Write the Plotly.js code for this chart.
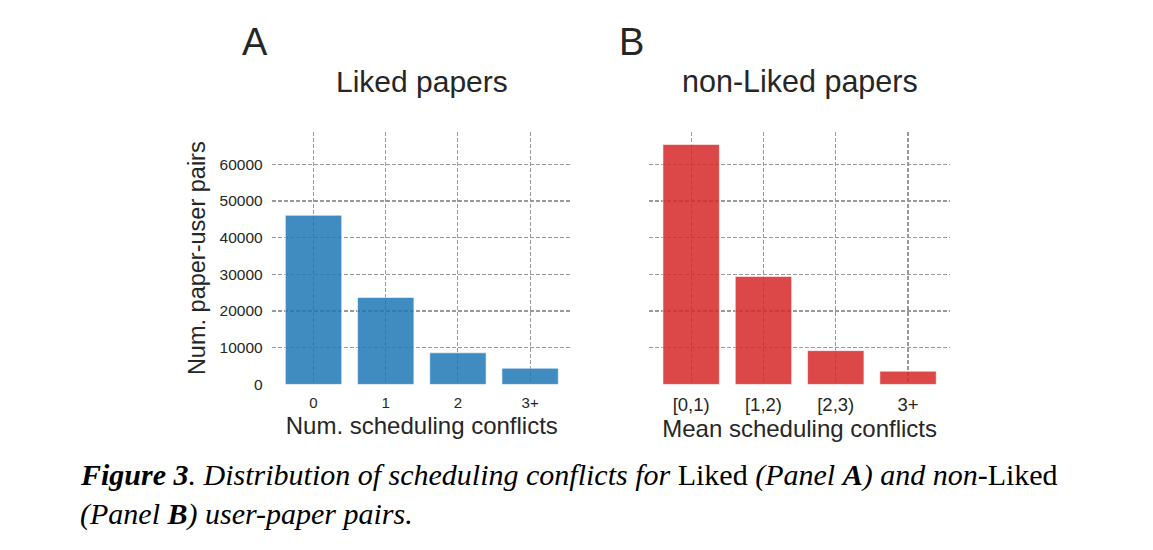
<!DOCTYPE html>
<html>
<head>
<meta charset="utf-8">
<script src="https://cdn.plot.ly/plotly-3.0.1.min.js"></script>
<style>html,body{margin:0;padding:0;background:#fff;}#chart{width:1153px;height:550px;}</style>
</head>
<body>
<div id="chart"></div>
<script>
// ---- data ----
var likedCategories = ['0', '1', '2', '3+'];
var likedCounts = [46100, 23700, 8600, 4400];
var nonLikedCategories = ['[0,1)', '[1,2)', '[2,3)', '3+'];
var nonLikedCounts = [65400, 29400, 9200, 3600];
var yTickValues = [0, 10000, 20000, 30000, 40000, 50000, 60000];

var SANS = '"Liberation Sans", Arial, sans-serif';
var SERIF = '"Liberation Serif", "Times New Roman", serif';
var TXT = '#262626';
var GRID = '#999999';

var traces = [
  {
    type: 'bar', x: likedCategories, y: likedCounts, xaxis: 'x', yaxis: 'y',
    width: 0.78,
    marker: {color: 'rgba(31,119,180,0.85)', line: {color: 'rgba(255,255,255,0.55)', width: 1}},
    hoverinfo: 'x+y', showlegend: false
  },
  {
    type: 'bar', x: nonLikedCategories, y: nonLikedCounts, xaxis: 'x2', yaxis: 'y2',
    width: 0.78,
    marker: {color: 'rgba(214,39,40,0.85)', line: {color: 'rgba(255,255,255,0.55)', width: 1}},
    hoverinfo: 'x+y', showlegend: false
  }
];

function xAxis(domain, cats, tickSize, titleText, standoff, labelStandoff) {
  return {
    domain: domain, type: 'category', categoryorder: 'array', categoryarray: cats,
    range: [-0.58, 3.58], showgrid: true, gridcolor: GRID, griddash: '4px,2px', gridwidth: 1.1,
    zeroline: false, showline: false, ticks: '', ticklabelstandoff: labelStandoff,
    tickfont: {family: SANS, size: tickSize, color: TXT},
    title: {text: titleText, font: {family: SANS, size: 24, color: TXT}, standoff: standoff},
    automargin: false, fixedrange: true
  };
}
function yAxis(anchor, showLabels) {
  return {
    domain: [0.3011, 0.76], anchor: anchor, range: [0, 68800],
    tickmode: 'array', tickvals: yTickValues, ticktext: yTickValues.map(function (v) { return String(v); }),
    showticklabels: showLabels, showgrid: true, gridcolor: GRID, griddash: '4px,2px', gridwidth: 1.1,
    zeroline: true, zerolinecolor: 'rgba(255,255,255,0)', zerolinewidth: 1,
    showline: false, ticks: '', ticklabelstandoff: 8,
    tickfont: {family: SANS, size: 15.5, color: TXT},
    title: showLabels ? {text: 'Num. paper-user pairs', font: {family: SANS, size: 23.5, color: TXT}, standoff: 7} : {text: ''},
    automargin: false, fixedrange: true
  };
}

var layout = {
  width: 1153, height: 550,
  margin: {l: 0, r: 0, t: 0, b: 0},
  paper_bgcolor: '#ffffff', plot_bgcolor: '#ffffff',
  bargap: 0.22,
  xaxis: xAxis([0.2356, 0.4961], likedCategories, 15, 'Num. scheduling conflicts', 6, 8),
  yaxis: yAxis('x', true),
  xaxis2: xAxis([0.5631, 0.8239], nonLikedCategories, 18.5, 'Mean scheduling conflicts', 3, 7),
  yaxis2: yAxis('x2', false),
  annotations: [
    {text: 'A', xref: 'paper', yref: 'paper', x: 0.2209, y: 0.9236, xanchor: 'center', yanchor: 'middle',
     showarrow: false, font: {family: SANS, size: 38, color: TXT}},
    {text: 'B', xref: 'paper', yref: 'paper', x: 0.548, y: 0.9236, xanchor: 'center', yanchor: 'middle',
     showarrow: false, font: {family: SANS, size: 38, color: TXT}},
    {text: 'Liked papers', xref: 'paper', yref: 'paper', x: 0.3659, y: 0.8527, xanchor: 'center', yanchor: 'middle',
     showarrow: false, font: {family: SANS, size: 30, color: TXT}},
    {text: 'non-Liked papers', xref: 'paper', yref: 'paper', x: 0.6935, y: 0.8527, xanchor: 'center', yanchor: 'middle',
     showarrow: false, font: {family: SANS, size: 30.5, color: TXT}},
    {text: '<b><i>Figure 3</i></b><i>. Distribution of scheduling conflicts for </i>Liked<i> (Panel </i><b><i>A</i></b><i>) and non-</i>Liked',
     xref: 'paper', yref: 'paper', x: 0.0677, y: 1 - 475 / 550, xanchor: 'left', yanchor: 'middle',
     showarrow: false, align: 'left', font: {family: SERIF, size: 30, color: '#000000'}},
    {text: '<i>(Panel </i><b><i>B</i></b><i>) user-paper pairs.</i>',
     xref: 'paper', yref: 'paper', x: 0.0677, y: 1 - 514 / 550, xanchor: 'left', yanchor: 'middle',
     showarrow: false, align: 'left', font: {family: SERIF, size: 30, color: '#000000'}}
  ]
};

Plotly.newPlot('chart', traces, layout, {displayModeBar: false, staticPlot: true});
</script>
</body>
</html>
